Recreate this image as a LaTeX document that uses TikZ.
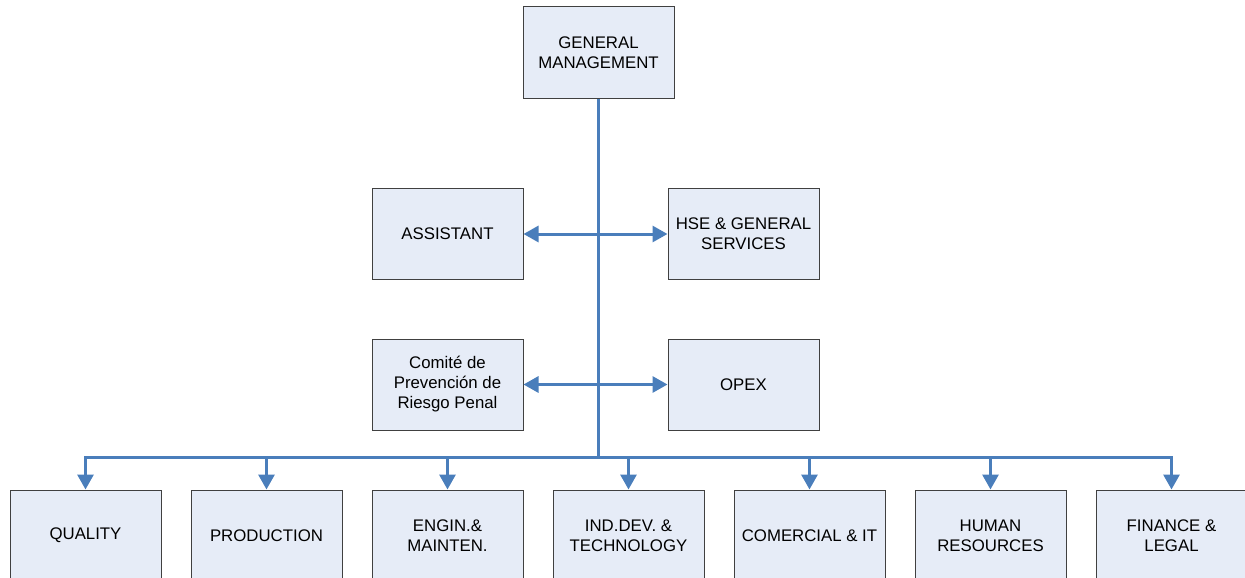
\documentclass[tikz,border=0pt]{standalone}
\usepackage{fontspec}
\setmainfont{Liberation Sans}
\usetikzlibrary{arrows.meta}
\definecolor{boxfill}{HTML}{E6ECF7}
\definecolor{boxline}{HTML}{404040}
\definecolor{conn}{HTML}{4A7EBB}
\begin{document}
\begin{tikzpicture}[x=1pt,y=-1pt,
  orgbox/.style={draw=boxline, line width=1pt, fill=boxfill, minimum width=151pt, minimum height=91pt, inner sep=0pt, align=center, font=\fontsize{16.8}{20}\selectfont},
  link/.style={draw=conn, line width=3pt},
  arr/.style={link, -{Triangle[length=15pt,width=16pt]}},
  darr/.style={link, {Triangle[length=15pt,width=16pt]}-{Triangle[length=15pt,width=16pt]}}]
\useasboundingbox (0,0) rectangle (1245,578);
\clip (0,0) rectangle (1245,578);
\node[orgbox] (gm) at (598.5,52.5) {GENERAL\\MANAGEMENT};
\node[orgbox] (ast) at (447.5,234) {ASSISTANT};
\node[orgbox] (hse) at (743.5,234) {HSE \& GENERAL\\SERVICES};
\node[orgbox] (com) at (447.5,384.5) {Comité de\\Prevención de\\Riesgo Penal};
\node[orgbox] (opex) at (743.5,384.5) {OPEX};
\node[orgbox] (q) at (85.5,535.5) {QUALITY};
\node[orgbox] (p) at (266.5,535.5) {PRODUCTION};
\node[orgbox] (e) at (447.5,535.5) {ENGIN.\&\\MAINTEN.};
\node[orgbox] (i) at (628.5,535.5) {IND.DEV. \&\\TECHNOLOGY};
\node[orgbox] (c) at (809.5,535.5) {COMERCIAL \& IT};
\node[orgbox] (h) at (990.5,535.5) {HUMAN\\RESOURCES};
\node[orgbox] (f) at (1171.5,535.5) {FINANCE \&\\LEGAL};
\coordinate (j) at (598,457.5);
\draw[link] (gm.south -| j) -- (j);
\draw[darr] (ast.east) -- (hse.west);
\draw[darr] (com.east) -- (opex.west);
\foreach \n in {q,p,e,i,c,h,f} \draw[arr] (j) -| (\n.north);
\end{tikzpicture}
\end{document}
